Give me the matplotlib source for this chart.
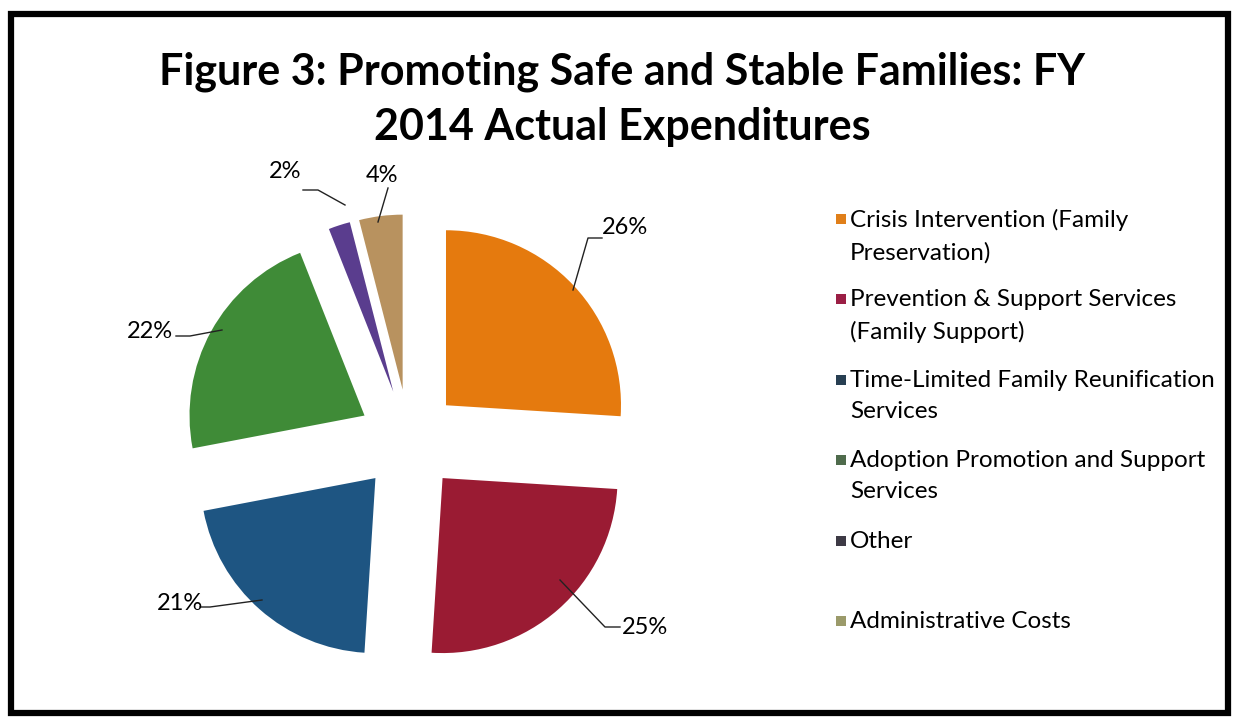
import matplotlib
matplotlib.use("Agg")
import matplotlib.pyplot as plt
from matplotlib.patches import Rectangle
import numpy as np

categories = [
    "Crisis Intervention (Family\nPreservation)",
    "Prevention & Support Services\n(Family Support)",
    "Time-Limited Family Reunification\nServices",
    "Adoption Promotion and Support\nServices",
    "Other",
    "Administrative Costs",
]
values = [26, 25, 21, 22, 2, 4]
pct_labels = ["26%", "25%", "21%", "22%", "2%", "4%"]
colors = ["#E57A0E", "#9A1B33", "#1E5582", "#3F8B37", "#5A3D8E", "#B8925F"]
legend_colors = ["#E07F1A", "#9B1F45", "#283F52", "#4F6B4C", "#3D3A45", "#9B9A6A"]

title = "Figure 3: Promoting Safe and Stable Families: FY\n2014 Actual Expenditures"

FONT = ["Lato", "DejaVu Sans"]
plt.rcParams["font.family"] = FONT

W, H = 1244, 721
fig = plt.figure(figsize=(W / 100, H / 100), dpi=100)
fig.patch.set_facecolor("white")

# border
fig.patches.append(Rectangle((11 / W, 8 / H), (W - 16 - 11) / W, (H - 14 - 8) / H,
                             transform=fig.transFigure, fill=False,
                             edgecolor="black", linewidth=4.5))

fig.text(0.5, 1 - 99 / H, title, ha="center", va="center", fontsize=31,
         fontweight="bold", linespacing=1.45)

# pie axes
cx, cy, R = 409, 440, 175
half = 1.6 * R
ax = fig.add_axes([(cx - half) / W, (H - cy - half) / H, 2 * half / W, 2 * half / H])
ax.axis("off")

wedges, _ = ax.pie(values, colors=colors, startangle=90, counterclock=False,
                   explode=[0.29] * len(values), radius=1.0,
                   wedgeprops=dict(linewidth=0))
ax.set_xlim(-1.6, 1.6)
ax.set_ylim(-1.6, 1.6)
ax.set_aspect("equal")

def px2d(px, py):
    return ((px - cx) / R, (cy - py) / R)

# label text positions (pixels) and leader line points (pixels)
label_pos = [(625, 228), (645, 627), (180, 604), (150, 332), (285, 172), (382, 176)]
leaders = [
    [(573, 290), (588, 238), (602, 238)],
    [(560, 580), (605, 627), (620, 627)],
    [(262, 600), (210, 607), (200, 607)],
    [(222, 330), (190, 336), (176, 336)],
    [(345, 205), (318, 190), (303, 190)],
    [(378, 222), (388, 188)],
]
for lab, (tx, ty), pts in zip(pct_labels, label_pos, leaders):
    xs, ys = zip(*[px2d(*p) for p in pts])
    ax.plot(xs, ys, color="#222222", linewidth=1.0, clip_on=False)
    x, y = px2d(tx, ty)
    ax.text(x, y, lab, ha="center", va="center", fontsize=17, color="black")

# legend (manual)
y0 = 220
for i, (cat, col) in enumerate(zip(categories, legend_colors)):
    y = y0 + i * 80.4
    fig.patches.append(Rectangle((836 / W, 1 - (y + 4) / H), 10 / W, 10 / H,
                                 transform=fig.transFigure, facecolor=col,
                                 edgecolor="none"))
    fig.text(850 / W, 1 - (y - 11) / H, cat, ha="left", va="top", fontsize=17.5,
             linespacing=1.6)

fig.savefig("out.png", dpi=100, facecolor="white")
